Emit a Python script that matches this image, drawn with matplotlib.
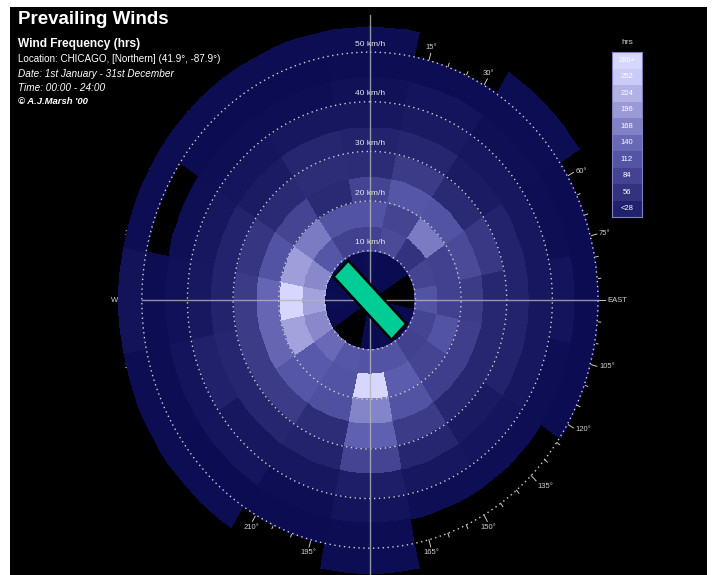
import numpy as np
import matplotlib.pyplot as plt
from matplotlib.colors import LinearSegmentedColormap, Normalize
from matplotlib.patches import Polygon

plt.rcParams['font.family'] = ['Liberation Sans', 'DejaVu Sans']

# 16 compass sectors, clockwise from north
directions = ['N', 'NNE', 'NE', 'ENE', 'E', 'ESE', 'SE', 'SSE',
              'S', 'SSW', 'SW', 'WSW', 'W', 'WNW', 'NW', 'NNW']
dir_angles = np.arange(16) * 22.5
speed_edges = [0, 10, 15, 20, 25, 30, 35, 40, 45, 50, 55]  # km/h

# hours per speed band, one value per direction (0 = no data)
hrs_0_10 = [8, 6, 5, 0, 0, 4, 6, 7, 6, 0, 0, 5, 7, 6, 8, 7]
hrs_10_15 = [95, 110, 70, 100, 125, 100, 95, 125, 125, 130, 155, 190, 220, 190, 130, 95]
hrs_15_20 = [125, 100, 175, 95, 95, 125, 100, 140, 290, 125, 135, 220, 290, 215, 175, 125]
hrs_20_25 = [100, 130, 125, 110, 85, 90, 90, 125, 185, 120, 130, 150, 150, 125, 100, 55]
hrs_25_30 = [58, 85, 55, 80, 52, 52, 52, 85, 145, 60, 85, 85, 85, 75, 55, 60]
hrs_30_35 = [45, 50, 32, 45, 45, 45, 30, 50, 100, 45, 50, 50, 45, 45, 32, 50]
hrs_35_40 = [26, 30, 26, 26, 26, 26, 22, 26, 38, 26, 26, 42, 28, 26, 22, 26]
hrs_40_45 = [15, 20, 12, 10, 20, 10, 10, 10, 20, 10, 22, 20, 16, 12, 10, 10]
hrs_45_50 = [9, 9, 9, 7, 7, 7, 0, 0, 9, 7, 7, 9, 9, 0, 7, 7]
hrs_50_55 = [8, 0, 8, 0, 0, 0, 0, 0, 8, 0, 8, 8, 18, 8, 8, 8]
rings = [hrs_0_10, hrs_10_15, hrs_15_20, hrs_20_25, hrs_25_30,
         hrs_30_35, hrs_35_40, hrs_40_45, hrs_45_50, hrs_50_55]

grid_speeds = [10, 20, 30, 40, 50]
cbar_levels = [28, 56, 84, 112, 140, 168, 196, 224, 252, 280]
cbar_labels = ['<28', '56', '84', '112', '140', '168', '196', '224', '252', '280+']
prevailing_dir = 315

cmap = LinearSegmentedColormap.from_list('wind', ['#08084e', '#5c5cae', '#d6d6ff'])
norm = Normalize(0, 280, clip=True)

fig = plt.figure(figsize=(7.19, 5.75), dpi=100, facecolor='white')
ax = fig.add_axes([10/719, 0, 697/719, 568/575])
ax.set_facecolor('black')
ax.set_xlim(-78.9, 73.9)
ax.set_ylim(-55.4, 59.1)
ax.set_xticks([])
ax.set_yticks([])
for s in ax.spines.values():
    s.set_visible(False)

# direction ticks and labels (drawn under the cells)
for a in range(0, 360, 5):
    t = np.deg2rad(a)
    ln = 1.5 if a % 15 == 0 else 0.8
    ax.plot([50*np.sin(t), (50+ln)*np.sin(t)], [50*np.cos(t), (50+ln)*np.cos(t)],
            color='#c8c8c8', lw=0.7, zorder=1)
for a in range(15, 360, 15):
    if a == 180:
        continue
    t = np.deg2rad(a)
    sn, cs = np.sin(t), np.cos(t)
    ha = 'left' if sn > 0.6 else ('right' if sn < -0.6 else 'center')
    va = 'bottom' if cs > 0.6 else ('top' if cs < -0.6 else 'center')
    lab = {90: 'EAST', 270: 'WEST'}.get(a, '%d°' % a)
    ax.text(52*sn, 52*cs, lab, color='#d0d0d0', fontsize=5.5,
            ha=ha, va=va, zorder=1)

# frequency cells
sub = 8
theta = np.deg2rad(np.linspace(-11.25, 360 - 11.25, 16*sub + 1))
R, T = np.meshgrid(speed_edges, theta, indexing='ij')
X = R * np.sin(T)
Y = R * np.cos(T)
C = np.repeat(np.array(rings, dtype=float), sub, axis=1)
C = np.ma.masked_equal(C, 0)
ax.pcolormesh(X, Y, C, cmap=cmap, norm=norm, shading='flat',
              edgecolors='face', linewidth=0.2, zorder=2)

# dotted speed circles
tt = np.linspace(0, 2*np.pi, 400)
for r in grid_speeds:
    ax.plot(r*np.sin(tt), r*np.cos(tt), color='#d0d0d0', lw=1,
            linestyle=(0, (1, 2.5)), zorder=3)
    ax.text(0, r + 1.6, '%d km/h' % r, color='#e8e8e8', fontsize=6,
            ha='center', va='center', zorder=4)

# cross hair
ax.plot([0, 0], [-58, 57.5], color='#b4b4b4', lw=1, alpha=0.8, zorder=3)
ax.plot([-50, 50], [0, 0], color='#b4b4b4', lw=1, alpha=0.8, zorder=3)

# prevailing direction bar
t = np.deg2rad(prevailing_dir)
u = np.array([np.sin(t), np.cos(t)])
v = np.array([u[1], -u[0]])
L, w = 9.0, 2.3
pts = [L*u + w*v, L*u - w*v, -L*u - w*v, -L*u + w*v]
ax.add_patch(Polygon(pts, closed=True, facecolor='#00cc96', edgecolor='black',
                     lw=1.8, zorder=5))

# titles
fig.text(18/719, 1 - 20/575, 'Prevailing Winds', color='white', fontsize=13.5,
         fontweight='bold', va='center')
fig.text(18/719, 1 - 44/575, 'Wind Frequency (hrs)', color='white', fontsize=8.6,
         fontweight='bold', va='center')
fig.text(18/719, 1 - 59/575, 'Location: CHICAGO, [Northern] (41.9°, -87.9°)',
         color='white', fontsize=7.1, va='center')
fig.text(18/719, 1 - 74/575, 'Date: 1st January - 31st December', color='white',
         fontsize=7.2, style='italic', va='center')
fig.text(18/719, 1 - 88/575, 'Time: 00:00 - 24:00', color='white',
         fontsize=7.2, style='italic', va='center')
fig.text(18/719, 1 - 102/575, "© A.J.Marsh '00", color='white',
         fontsize=6.8, style='italic', fontweight='bold', va='center')

# legend scale
cax = fig.add_axes([612/719, 1 - 217/575, 30/719, 165/575])
cax.bar(0.5, 1, width=1, bottom=np.arange(len(cbar_levels)),
        color=cmap(norm(np.array(cbar_levels) + 14)), edgecolor='none')
for i, lab in enumerate(cbar_labels):
    cax.text(0.5, i + 0.5, lab, color='white', fontsize=5.5, ha='center', va='center')
cax.set_xlim(0, 1)
cax.set_ylim(0, len(cbar_levels))
cax.set_xticks([])
cax.set_yticks([])
for s in cax.spines.values():
    s.set_color('#8080c0')
    s.set_linewidth(0.8)
fig.text(627/719, 1 - 42/575, 'hrs', color='#d0d0d0', fontsize=6, ha='center', va='center')

fig.savefig('out.png', dpi=100, facecolor='white')
